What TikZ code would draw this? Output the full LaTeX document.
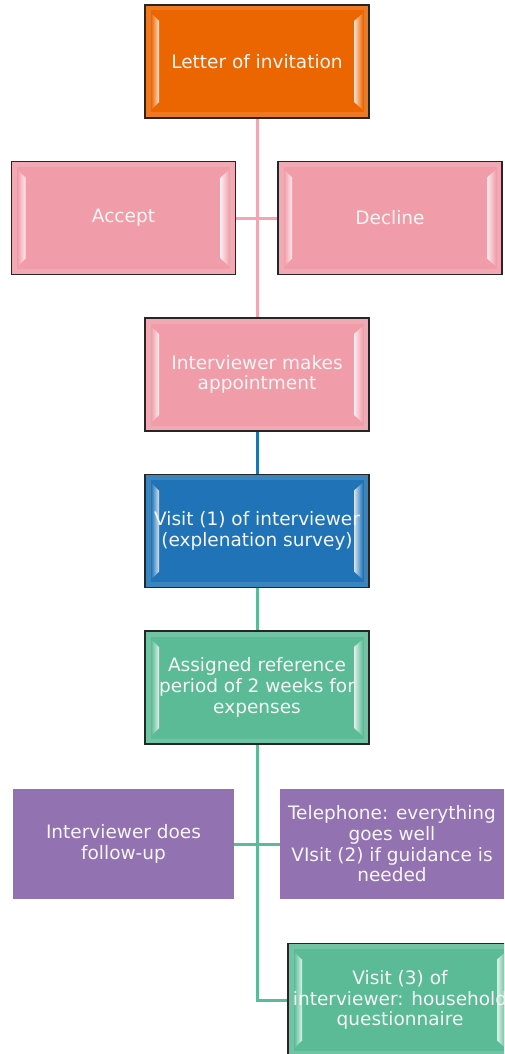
\documentclass[tikz,border=0pt]{standalone}
\usepackage{fontspec}
\setmainfont{DejaVu Sans}
\usetikzlibrary{calc,backgrounds}

\definecolor{cOrange}{RGB}{236,102,0}
\definecolor{cPink}{RGB}{240,157,169}
\definecolor{cPinkLine}{RGB}{243,166,178}
\definecolor{cBlue}{RGB}{31,115,182}
\definecolor{cGreen}{RGB}{91,187,150}
\definecolor{cPurple}{RGB}{146,114,176}
\definecolor{cText}{RGB}{246,246,246}

\tikzset{
  txt/.style={text=cText, align=center, font=\fontsize{18.5}{20.7}\selectfont,
    inner sep=0pt, outer sep=0pt},
  % raised box with a dark frame and light bevels on its sides
  bevelbox/.style={txt, fill=#1, draw=black!85, line width=1.6pt,
    minimum width=224pt, minimum height=113pt,
    path picture={
      \coordinate (@nw) at (path picture bounding box.north west);
      \coordinate (@ne) at (path picture bounding box.north east);
      \coordinate (@sw) at (path picture bounding box.south west);
      \coordinate (@se) at (path picture bounding box.south east);
      % soft light rim just inside the frame
      \draw[white, opacity=.13, line width=5pt]
        ($(@nw)+(3pt,-3pt)$) rectangle ($(@se)+(-3pt,3pt)$);
      % side bevels, brightest at their inner edge
      \shade[left color=#1, right color=#1!20!white]
        ($(@nw)+(6pt,-8pt)$) -- ($(@nw)+(14pt,-16pt)$)
        -- ($(@sw)+(14pt,16pt)$) -- ($(@sw)+(6pt,8pt)$) -- cycle;
      \shade[right color=#1, left color=#1!20!white]
        ($(@ne)+(-6pt,-8pt)$) -- ($(@ne)+(-15pt,-16pt)$)
        -- ($(@se)+(-15pt,16pt)$) -- ($(@se)+(-6pt,8pt)$) -- cycle;
    }},
  flatbox/.style={txt, fill=#1, minimum width=221pt, minimum height=110pt},
  link/.style={line width=3pt, draw=#1}
}

\begin{document}
\begin{tikzpicture}[x=1pt, y=-1pt]
  \useasboundingbox (0,0) rectangle (504,1054);
  \clip (0,0) rectangle (504,1054);

  \node[bevelbox=cOrange] (letter) at (257,61.5) {Letter of invitation};
  \node[bevelbox=cPink] (accept) at (123.5,218) {Accept};
  \node[bevelbox=cPink] (decline) at (390,218) {Decline};
  \node[bevelbox=cPink] (appt) at (257,374.5) {Interviewer makes\\appointment};
  \node[bevelbox=cBlue] (visit1) at (257,531) {Visit (1) of interviewer\\(explenation survey)};
  \node[bevelbox=cGreen] (assigned) at (257,687.5) {Assigned reference\\period of 2 weeks for\\expenses};
  \node[flatbox=cPurple] (follow) at (123.5,844) {Interviewer does\\follow-up};
  \node[flatbox=cPurple, minimum width=224pt] (phone) at (392,844)
    {Telephone: everything\\goes well\\VIsit (2) if guidance is\\needed};
  \node[bevelbox=cGreen] (visit3) at (400,1000) {Visit (3) of\\interviewer: household\\questionnaire};

  \begin{scope}[on background layer]
    \draw[link=cPinkLine] (letter.south) -- (appt.north);
    \draw[link=cPinkLine] (accept.east) -- (decline.west);
    \draw[link=cBlue] (appt.south) -- (visit1.north);
    \draw[link=cGreen] (visit1.south) -- (assigned.north);
    \draw[link=cGreen] (assigned.south) |- (visit3.west);
    \draw[link=cGreen] (follow.east) -- (phone.west);
  \end{scope}
\end{tikzpicture}
\end{document}
